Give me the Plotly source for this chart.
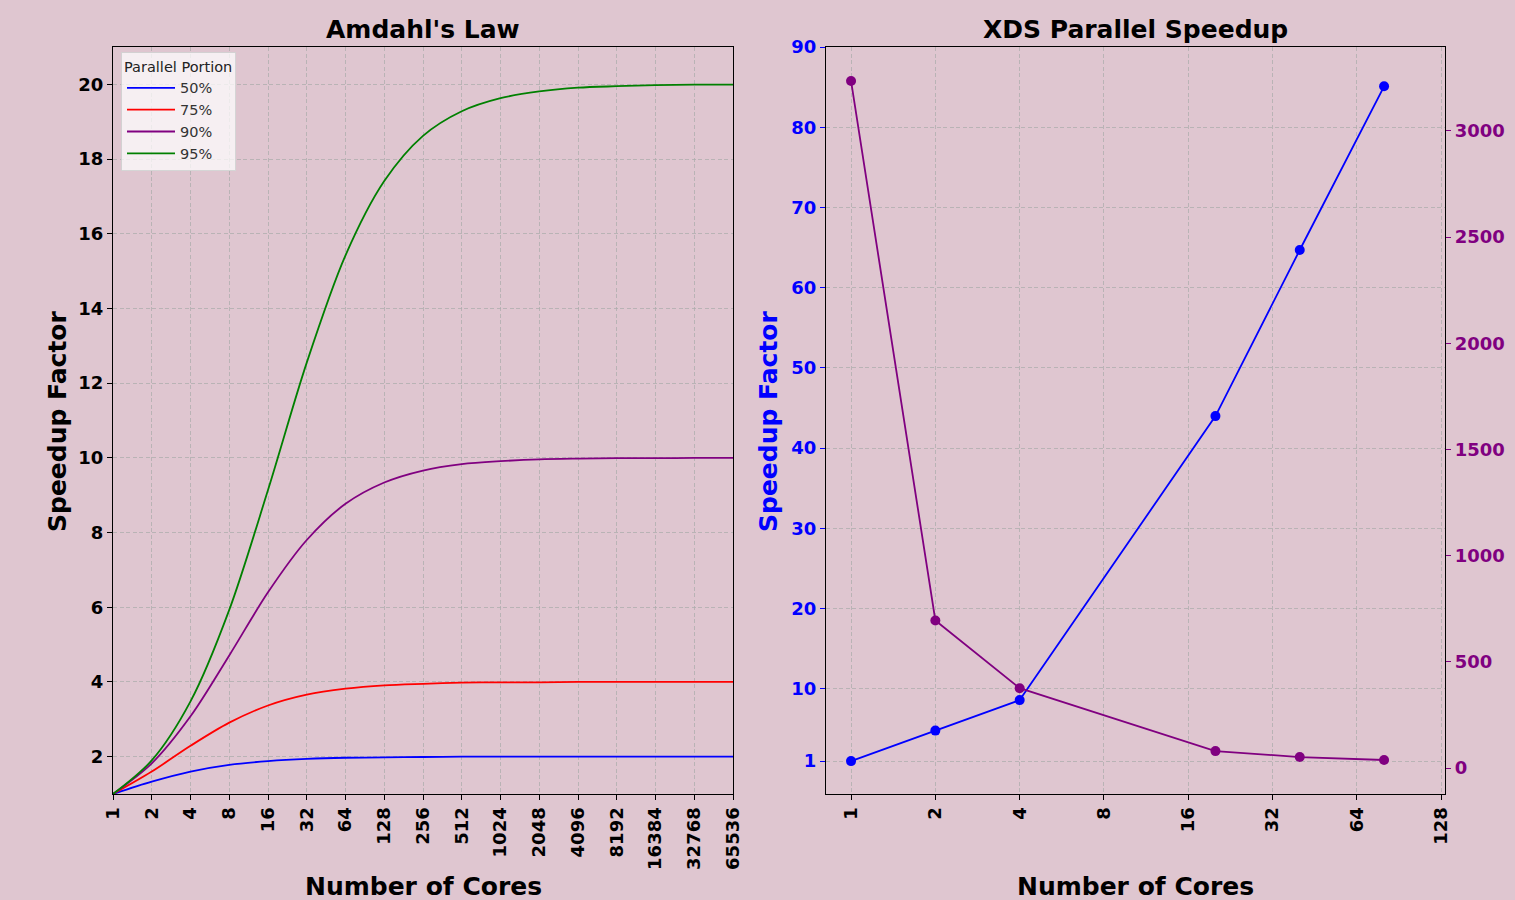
import plotly.graph_objects as go

# ---------------- data ----------------
cores = [1, 2, 4, 8, 16, 32, 64, 128, 256, 512, 1024, 2048, 4096, 8192, 16384, 32768, 65536]
core_labels = [str(c) for c in cores]

speedup_50 = [1.00, 1.33, 1.60, 1.78, 1.88, 1.94, 1.97, 1.98, 1.99, 2.00, 2.00, 2.00, 2.00, 2.00, 2.00, 2.00, 2.00]
speedup_75 = [1.00, 1.60, 2.29, 2.91, 3.37, 3.66, 3.82, 3.91, 3.95, 3.98, 3.99, 3.99, 4.00, 4.00, 4.00, 4.00, 4.00]
speedup_90 = [1.00, 1.82, 3.08, 4.71, 6.40, 7.80, 8.77, 9.34, 9.66, 9.83, 9.91, 9.96, 9.98, 9.99, 9.99, 10.00, 10.00]
speedup_95 = [1.00, 1.90, 3.48, 5.93, 9.14, 12.55, 15.42, 17.41, 18.62, 19.28, 19.63, 19.81, 19.91, 19.95, 19.98, 19.99, 19.99]
portion_names = ["50%", "75%", "90%", "95%"]

xds_cores = [1, 2, 4, 20, 40, 80]
xds_speedup = [1.0, 4.8, 8.6, 44.0, 64.7, 85.1]
xds_time = [3235, 695, 376, 80, 52, 38]

xds_ticks = [1, 2, 4, 8, 16, 32, 64, 128]
speedup_ticks = [1, 10, 20, 30, 40, 50, 60, 70, 80, 90]
time_ticks = [0, 500, 1000, 1500, 2000, 2500, 3000]
amdahl_yticks = [2, 4, 6, 8, 10, 12, 14, 16, 18, 20]

# ---------------- style ----------------
BG = "#dfc6d0"
GRID = "rgba(172,172,172,0.75)"
GDASH = "4px,2.5px"
FONT = "DejaVu Sans"
W, H = 1515, 900

def px_x(p):
    return p / W

def px_y(p):
    return 1 - p / H

fig = go.Figure()

colors = ["#0000ff", "#ff0000", "#800080", "#008000"]
for name, vals, col in zip(portion_names, [speedup_50, speedup_75, speedup_90, speedup_95], colors):
    fig.add_trace(go.Scatter(
        x=cores, y=vals, mode="lines", name=name,
        line=dict(color=col, width=1.8, shape="spline", smoothing=0.9),
        xaxis="x", yaxis="y", legendgroup="amdahl",
    ))

fig.add_trace(go.Scatter(
    x=xds_cores, y=xds_time, mode="lines+markers", showlegend=False,
    line=dict(color="#800080", width=1.8), marker=dict(color="#800080", size=10),
    xaxis="x2", yaxis="y3",
))
fig.add_trace(go.Scatter(
    x=xds_cores, y=xds_speedup, mode="lines+markers", showlegend=False,
    line=dict(color="#0000ff", width=1.8), marker=dict(color="#0000ff", size=10),
    xaxis="x2", yaxis="y2",
))

ydom = [px_y(794), px_y(47)]
TICK = 18
tick_bold = dict(family=FONT, size=TICK, weight="bold", color="black")

common_x = dict(
    type="log", tickangle=-90, showgrid=True, griddash=GDASH, gridcolor=GRID, gridwidth=1,
    showline=True, linecolor="black", linewidth=1.2, mirror=True, automargin=False,
    ticks="outside", ticklen=5, tickcolor="black", tickfont=tick_bold, zeroline=False,
)

fig.update_layout(
    width=W, height=H,
    paper_bgcolor=BG, plot_bgcolor=BG,
    margin=dict(l=0, r=0, t=0, b=0, pad=0, autoexpand=False),
    font=dict(family=FONT, color="black"),
    xaxis=dict(common_x, domain=[px_x(113), px_x(733)], anchor="y",
               range=[0, 4.8165], tickvals=cores, ticktext=core_labels),
    yaxis=dict(domain=ydom, anchor="x", range=[1, 21], tickvals=amdahl_yticks, automargin=False,
               showgrid=True, griddash=GDASH, gridcolor=GRID, zeroline=False,
               showline=True, linecolor="black", linewidth=1.2, mirror=True,
               ticks="outside", ticklen=5, tickcolor="black", tickfont=tick_bold),
    xaxis2=dict(common_x, domain=[px_x(826), px_x(1445)], anchor="y2",
                range=[-0.0894, 2.1206], tickvals=xds_ticks, ticktext=[str(t) for t in xds_ticks]),
    yaxis2=dict(domain=ydom, anchor="x2", range=[-3.1, 90], tickvals=speedup_ticks, automargin=False,
                showgrid=True, griddash=GDASH, gridcolor=GRID, zeroline=False,
                showline=True, linecolor="black", linewidth=1.2,
                ticks="outside", ticklen=5, tickcolor="#0000ff",
                tickfont=dict(family=FONT, size=TICK, weight="bold", color="#0000ff")),
    yaxis3=dict(overlaying="y2", side="right", anchor="x2", range=[-122, 3395], tickvals=time_ticks,
                automargin=False,
                showgrid=False, zeroline=False, showline=True, linecolor="black", linewidth=1.2,
                ticks="outside", ticklen=5, tickcolor="#800080",
                tickfont=dict(family=FONT, size=TICK, weight="bold", color="#800080")),
    legend=dict(
        x=px_x(121), y=px_y(52), xanchor="left", yanchor="top",
        bgcolor="rgba(255,255,255,0.72)", bordercolor="rgba(210,210,210,0.9)", borderwidth=1,
        font=dict(family=FONT, size=14.5, color="#333333"),
        title=dict(text="Parallel Portion", font=dict(family=FONT, size=14.5, color="#222222")),
        itemwidth=48, tracegroupgap=0,
    ),
    showlegend=True,
)

TS = 25
ann_title = dict(family=FONT, size=TS, weight="bold", color="black")
annotations = [
    dict(text="Amdahl's Law", x=px_x(423), y=px_y(30), font=ann_title),
    dict(text="XDS Parallel Speedup", x=px_x(1135), y=px_y(30), font=ann_title),
    dict(text="Number of Cores", x=px_x(423), y=px_y(886), font=ann_title),
    dict(text="Number of Cores", x=px_x(1135), y=px_y(886), font=ann_title),
    dict(text="Speedup Factor", x=px_x(57), y=px_y(421), textangle=-90, font=ann_title),
    dict(text="Speedup Factor", x=px_x(768), y=px_y(421), textangle=-90,
         font=dict(family=FONT, size=TS, weight="bold", color="#0000ff")),
    dict(text="Time (seconds)", x=px_x(1511), y=px_y(420), textangle=-90, xanchor="left",
         font=dict(family=FONT, size=TS, weight="bold", color="#800080")),
]
for a in annotations:
    a.setdefault("xanchor", "center")
    fig.add_annotation(xref="paper", yref="paper", showarrow=False, yanchor="middle", **a)

fig.write_html(
    "out.html",
    config={"displayModeBar": False},
    post_script="document.body.style.margin='0';document.body.style.overflow='hidden';",
)
